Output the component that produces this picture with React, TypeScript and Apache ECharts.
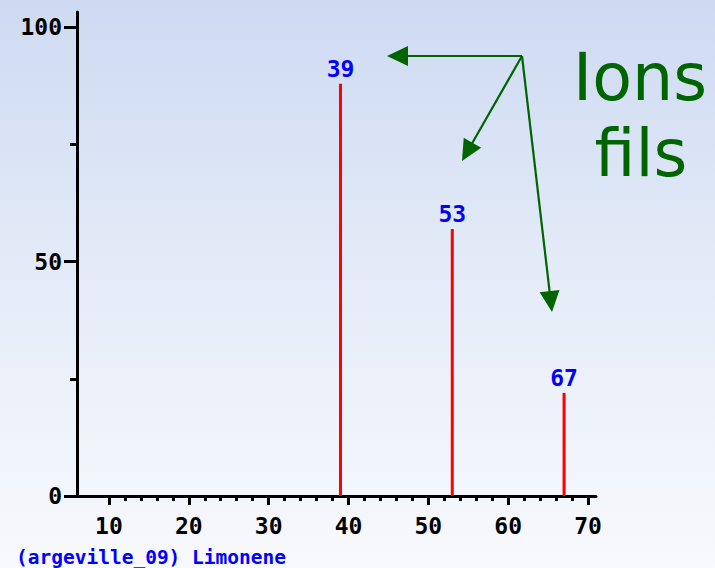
import React, { useEffect, useRef } from "react";
import * as echarts from "echarts";

const masses = [39, 53, 67];
const intensities = [88, 57, 22];
const xMajorTicks = [10, 20, 30, 40, 50, 60, 70];
const xMinorTicks = [12, 14, 16, 18, 22, 24, 26, 28, 32, 34, 36, 38, 42, 44, 46, 48, 52, 54, 56, 58, 62, 64, 66, 68];
const yMajorTicks = [0, 50, 100];
const yMinorTicks = [25, 75];
const title = "(argeville_09) Limonene";
const noteLines = ["Ions", "fils"];

const PIX = "'DejaVu Sans Mono', monospace";
const GREEN = "#006400";

function arrow(x1: number, y1: number, x2: number, y2: number) {
  const dx = x2 - x1;
  const dy = y2 - y1;
  const len = Math.sqrt(dx * dx + dy * dy);
  const ux = dx / len;
  const uy = dy / len;
  const hl = 21;
  const hw = 10;
  const bx = x2 - ux * hl;
  const by = y2 - uy * hl;
  return [
    {
      type: "line",
      shape: { x1, y1, x2: bx + ux * 2, y2: by + uy * 2 },
      style: { stroke: GREEN, lineWidth: 2.2 },
      silent: true,
    },
    {
      type: "polygon",
      shape: {
        points: [
          [x2, y2],
          [bx - uy * hw, by + ux * hw],
          [bx + uy * hw, by - ux * hw],
        ],
      },
      style: { fill: GREEN },
      silent: true,
    },
  ];
}

export default function App() {
  const ref = useRef<HTMLDivElement>(null);
  useEffect(() => {
    if (!ref.current) return;
    const chart = echarts.init(ref.current, null, { renderer: "svg" });
    const axisText = { color: "#000", fontFamily: PIX, fontWeight: "bold" as const, fontSize: 23 };
    chart.setOption({
      animation: false,
      backgroundColor: new echarts.graphic.LinearGradient(0, 0, 0, 1, [
        { offset: 0, color: "#cedaf2" },
        { offset: 0.5, color: "#e5ecf8" },
        { offset: 1, color: "#f8f9fd" },
      ]),
      grid: { left: 77, right: 119, top: 12, bottom: 72, containLabel: false },
      xAxis: [
        {
          type: "value",
          min: 6,
          max: 71,
          axisLine: { show: true, lineStyle: { color: "#000", width: 3 } },
          axisTick: { show: true, customValues: xMajorTicks, length: 9, lineStyle: { color: "#000", width: 3 } },
          axisLabel: { customValues: xMajorTicks, margin: 18, ...axisText },
          splitLine: { show: false },
        },
        {
          type: "value",
          min: 6,
          max: 71,
          position: "bottom",
          axisLine: { show: false },
          axisTick: { show: true, customValues: xMinorTicks, length: 5, lineStyle: { color: "#000", width: 3 } },
          axisLabel: { show: false },
          splitLine: { show: false },
        },
      ],
      yAxis: [
        {
          type: "value",
          min: 0,
          max: 103.3,
          axisLine: { show: true, lineStyle: { color: "#000", width: 3 } },
          axisTick: { show: true, customValues: yMajorTicks, length: 13, lineStyle: { color: "#000", width: 3 } },
          axisLabel: { customValues: yMajorTicks, margin: 15, ...axisText },
          splitLine: { show: false },
        },
        {
          type: "value",
          min: 0,
          max: 103.3,
          position: "left",
          axisLine: { show: false },
          axisTick: { show: true, customValues: yMinorTicks, length: 7, lineStyle: { color: "#000", width: 3 } },
          axisLabel: { show: false },
          splitLine: { show: false },
        },
      ],
      series: [
        {
          type: "bar",
          xAxisIndex: 0,
          yAxisIndex: 0,
          barWidth: 3,
          itemStyle: { color: "#ff0000" },
          data: masses.map((m, i) => [m, intensities[i]]),
          label: {
            show: true,
            position: "top",
            distance: 3,
            formatter: (p: any) => String(p.value[0]),
            color: "#0000ff",
            fontFamily: PIX,
            fontWeight: "bold",
            fontSize: 23,
          },
        },
      ],
      graphic: [
        {
          type: "text",
          left: 16,
          top: 547,
          style: {
            text: title,
            fill: "#0000ff",
            font: `bold 19.5px ${PIX}`,
          },
        },
        {
          type: "text",
          x: 640,
          y: 110,
          style: {
            text: noteLines[0],
            fill: GREEN,
            font: "65px 'DejaVu Sans', sans-serif",
            align: "center",
            verticalAlign: "bottom",
          },
        },
        {
          type: "text",
          x: 641,
          y: 186,
          style: {
            text: noteLines[1],
            fill: GREEN,
            font: "65px 'DejaVu Sans', sans-serif",
            align: "center",
            verticalAlign: "bottom",
          },
        },
        ...arrow(522, 56, 387, 56),
        ...arrow(522, 56, 462, 161),
        ...arrow(522, 56, 552, 312),
      ],
    });
    return () => chart.dispose();
  }, []);
  return (
    <div
      ref={ref}
      style={{ position: "fixed", left: 0, top: 0, width: 715, height: 568 }}
    />
  );
}
